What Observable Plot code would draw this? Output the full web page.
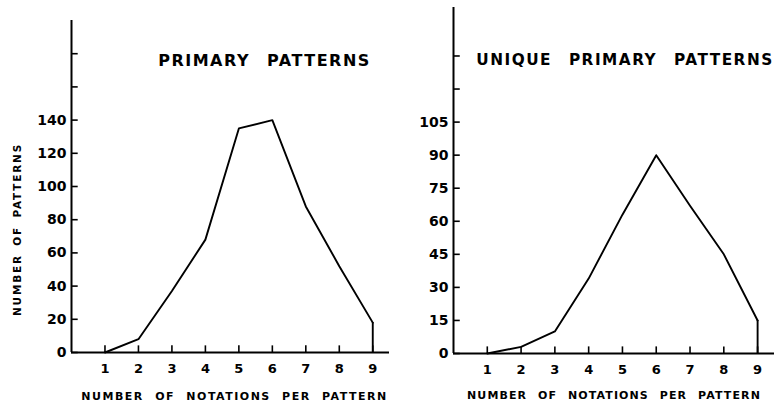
<!DOCTYPE html>
<html>
<head>
<meta charset="utf-8">
<script src="https://cdn.jsdelivr.net/npm/d3@7"></script>
<script src="https://cdn.jsdelivr.net/npm/@observablehq/plot@0.6"></script>
<style>
  html, body { margin: 0; padding: 0; background: #fff; }
  #wrap { display: flex; width: 777px; height: 404px; overflow: hidden; }
  svg { font-family: "DejaVu Sans", sans-serif; font-weight: bold; color: #000; }
  .ttl text { letter-spacing: 1.5px; word-spacing: 10px; }
  .lblL text { letter-spacing: 1.5px; word-spacing: 6px; }
  .lblR text { letter-spacing: 1.1px; word-spacing: 6px; }
  .ylbl text { letter-spacing: 1.8px; word-spacing: 3px; }
</style>
</head>
<body>
<div id="wrap"></div>
<script>
// ---- data ----
const notations = [1, 2, 3, 4, 5, 6, 7, 8, 9];
const primaryCounts = [0, 8, 37, 68, 135, 140, 88, 52, 18];
const uniqueCounts = [0, 3, 10, 34, 63, 90, 67, 45, 15];

const primaryTicks = [0, 20, 40, 60, 80, 100, 120, 140, 160, 180];
const primaryLabeled = [0, 20, 40, 60, 80, 100, 120, 140];
const uniqueTicks = [0, 15, 30, 45, 60, 75, 90, 105, 120, 135];
const uniqueLabeled = [0, 15, 30, 45, 60, 75, 90, 105];

const titleLeft = "PRIMARY PATTERNS";
const titleRight = "UNIQUE PRIMARY PATTERNS";
const xLabel = "NUMBER OF NOTATIONS PER PATTERN";
const yLabel = "NUMBER OF PATTERNS";

const leftData = notations.map((n, i) => ({n, v: primaryCounts[i]}));
const rightData = notations.map((n, i) => ({n, v: uniqueCounts[i]}));

function panel(o) {
  const last = o.data[o.data.length - 1];
  return Plot.plot({
    width: o.width, height: 404,
    marginLeft: o.ml, marginRight: o.mr, marginTop: o.mt, marginBottom: o.mb,
    x: {domain: [0, 9.5], axis: null},
    y: {domain: o.ydomain, axis: null},
    marks: [
      Plot.ruleX([0], {stroke: "#000", strokeWidth: 2}),
      Plot.ruleY([0], {stroke: "#000", strokeWidth: 2}),
      Plot.ruleY(o.yticks, {x1: 0, x2: 0.2, stroke: "#000", strokeWidth: 1.6}),
      Plot.ruleX(notations, {y1: 0, y2: o.xtick, stroke: "#000", strokeWidth: 1.6}),
      Plot.axisY({ticks: o.ylabeled, tickSize: 0, tickPadding: 5, fontSize: 14, label: null}),
      Plot.axisX({ticks: notations, tickSize: 0, tickPadding: 11, fontSize: 13, label: null}),
      Plot.line(o.data, {x: "n", y: "v", stroke: "#000", strokeWidth: 1.9}),
      Plot.ruleX([last], {x: "n", y1: 0, y2: "v", stroke: "#000", strokeWidth: 1.9}),
      Plot.text([o.title], {text: d => d, frameAnchor: "top", lineAnchor: "middle", dx: o.tdx, dy: o.tdy, fontSize: o.tfs, fill: "#000", className: "ttl"}),
      Plot.text([xLabel], {text: d => d, frameAnchor: "bottom", lineAnchor: "middle", dx: o.xldx, dy: o.xldy, fontSize: 11, fill: "#000", className: o.lblClass}),
      ...(o.ylab ? [Plot.text([yLabel], {text: d => d, frameAnchor: "left", textAnchor: "middle", lineAnchor: "middle", rotate: -90, dx: -54, dy: 43, fontSize: 10.5, fill: "#000", className: "ylbl"})] : [])
    ]
  });
}

const wrap = document.getElementById("wrap");
wrap.appendChild(panel({
  data: leftData, width: 390, ml: 71, mr: 1, mt: 20, mb: 52,
  ydomain: [0, 200], yticks: primaryTicks, ylabeled: primaryLabeled, xtick: 4,
  title: titleLeft, tfs: 16, tdx: 34, tdy: 40, xldx: 4, xldy: 44, lblClass: "lblL", ylab: true
}));
wrap.appendChild(panel({
  data: rightData, width: 387, ml: 63, mr: 3, mt: 7, mb: 51,
  ydomain: [0, 157], yticks: uniqueTicks, ylabeled: uniqueLabeled, xtick: 3,
  title: titleRight, tfs: 15.3, tdx: 11, tdy: 53, xldx: 0, xldy: 42, lblClass: "lblR", ylab: false
}));
</script>
</body>
</html>
